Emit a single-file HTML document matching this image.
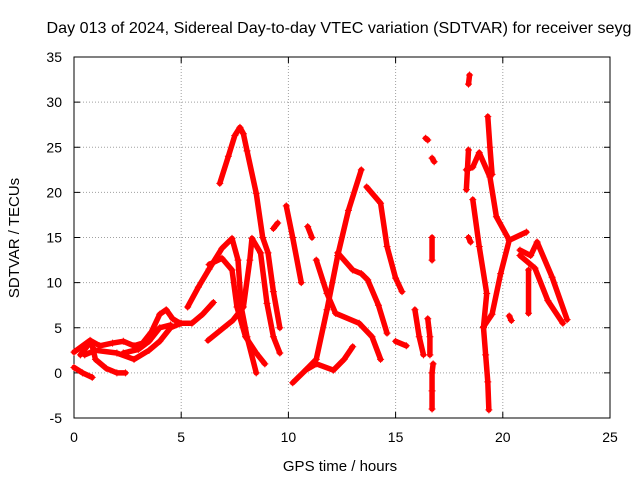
<!DOCTYPE html>
<html><head><meta charset="utf-8"><style>
body{margin:0;background:#fff}
svg{display:block;font-family:"Liberation Sans",sans-serif}
</style></head><body>
<svg id="chart" width="640" height="480" viewBox="0 0 640 480">
<rect width="640" height="480" fill="#fff"/>
<text x="339" y="33" font-size="16" text-anchor="middle" textLength="585" lengthAdjust="spacingAndGlyphs">Day 013 of 2024, Sidereal Day-to-day VTEC variation (SDTVAR) for receiver seyg</text>
<g id="grid"></g>
<g id="axes"></g>
<g id="marks"></g>
<text x="340" y="471" font-size="15" text-anchor="middle">GPS time / hours</text>
<text transform="translate(19,238) rotate(-90)" font-size="15" text-anchor="middle">SDTVAR / TECUs</text>
</svg>
<script>
const xTicks=[0,5,10,15,20,25];
const yTicks=[-5,0,5,10,15,20,25,30,35];
const track1=[[6.8,21],[7.2,24],[7.5,26.3],[7.74,27.2],[7.9,26.5],[8.07,24.6],[8.5,19.9],[8.8,15],[9.05,13.3],[9.3,9],[9.6,5]];
const track2=[[5.3,7.3],[5.8,9.5],[6.3,11.5],[6.9,13.8],[7.37,14.9],[7.65,12.5],[7.8,7.3],[8.07,4],[8.5,0]];
const track3=[[6.3,12],[6.9,12.7],[7.37,11.4],[7.6,7.3],[8.0,4],[8.5,2.2],[8.9,1]];
const track4=[[6.25,3.6],[7.4,5.8],[7.9,7.3],[8.2,12.5],[8.3,14.9],[8.7,13.3],[9.0,7.7],[9.3,4],[9.6,2.2]];
const track5=[[9.3,16],[9.5,16.6]];
const track6=[[9.9,18.5],[10.2,15],[10.6,10]];
const track7=[[10.9,16.2],[11.1,15]];
const track8=[[10.2,-1.1],[10.8,0.3],[11.3,1.5],[11.8,7],[12.3,13],[12.8,18],[13.4,22.5]];
const track9=[[12.3,13.3],[13,11.4],[13.4,11],[13.7,10.3],[14.2,7.5],[14.6,4.4]];
const track10=[[11.3,12.5],[11.8,8.8],[12.2,6.6],[13.3,5.5],[13.9,4],[14.3,1.5]];
const track11=[[13.65,20.6],[14.3,18.8],[14.6,14],[15,10.5],[15.3,9]];
const track12=[[10.8,0.3],[11.3,1],[12.1,0.3],[12.6,1.5],[13,2.9]];
const track13=[[0,2.3],[0.75,3.6],[1.2,3],[1.8,3.3],[2.3,3.5],[2.8,3],[3.2,3.3],[3.6,4.5],[4,6.5],[4.3,7],[4.6,6],[4.94,5.5],[5.5,5.5],[6,6.5],[6.5,7.8]];
const track14=[[0,0.6],[0.4,0],[0.85,-0.5]];
const track15=[[0.3,2],[0.8,3.5],[1,1.5],[1.5,0.5],[2,0],[2.4,0]];
const track16=[[0.5,2],[1,2.5],[2,2.2],[2.8,1.5],[3.5,2.5],[4,3.5],[4.5,5],[5,5.5]];
const track17=[[2.3,2.2],[3,2.6],[3.5,3.5],[4,5],[4.5,5.3]];
const track18=[[15,3.5],[15.5,3]];
const track19=[[15.9,7],[16.1,4],[16.3,2]];
const track20=[[16.4,26],[16.5,25.8]];
const track21=[[16.7,23.8],[16.8,23.4]];
const track22=[[16.7,-4],[16.7,-2],[16.7,0],[16.75,1]];
const track23=[[16.7,12.5],[16.7,15]];
const track24=[[16.5,6],[16.6,4],[16.6,2]];
const track25=[[18.4,32],[18.45,33]];
const track26=[[18.3,22.5],[18.6,22.8],[18.9,24.4],[19.4,21.7],[19.7,17.3],[20.3,14.7]];
const track27=[[18.6,19.2],[18.9,14],[19.25,8.8],[19.1,5.1]];
const track28=[[19.3,28.4],[19.4,25],[19.5,22]];
const track29=[[19.1,5.1],[19.5,6.5],[19.9,11],[20.3,14.7],[21.1,15.6]];
const track30=[[20.8,13.6],[21.3,13],[21.6,14.5],[22.3,10.6],[23,5.9]];
const track31=[[20.8,13],[21.5,11.6],[22.1,8],[22.8,5.5]];
const track32=[[19.1,5],[19.2,2],[19.3,-1],[19.35,-4.1]];
const track33=[[18.4,15],[18.5,14.5]];
const track34=[[18.4,24.7],[18.3,20.3]];
const track35=[[20.3,6.3],[20.4,5.8]];
const track36=[[21.2,11.4],[21.2,6.6]];
const tracks=[track1,track2,track3,track4,track5,track6,track7,track8,track9,track10,track11,track12,track13,track14,track15,track16,track17,track18,track19,track20,track21,track22,track23,track24,track25,track26,track27,track28,track29,track30,track31,track32,track33,track34,track35,track36];
const NS="http://www.w3.org/2000/svg";
const L=74,R=610,T=57,B=418;
function xs(v){return L+(v-0)/25*(R-L);}
function ys(v){return B-(v+5)/40*(B-T);}
function mk(tag,attrs,parent){const e=document.createElementNS(NS,tag);for(const k in attrs)e.setAttribute(k,attrs[k]);parent.appendChild(e);return e;}
const grid=document.getElementById('grid'),axes=document.getElementById('axes'),marks=document.getElementById('marks');
xTicks.forEach(t=>{
  const x=xs(t);
  if(t>0&&t<25){const g=mk('line',{x1:x,x2:x,y1:T,y2:B,stroke:'#a0a0a0','stroke-dasharray':'1,2'},grid);
  
  }
  const tx=mk('text',{x:x,y:B+24,'font-size':'14','text-anchor':'middle'},axes);tx.textContent=t;
  
  
  mk('line',{x1:x,x2:x,y1:B,y2:B-6,stroke:'#000'},axes);
  mk('line',{x1:x,x2:x,y1:T,y2:T+6,stroke:'#000'},axes);
});
yTicks.forEach(t=>{
  const y=ys(t);
  if(t>-5&&t<35){const g=mk('line',{x1:L,x2:R,y1:y,y2:y,stroke:'#a0a0a0','stroke-dasharray':'1,2'},grid);
  
  }
  const tx=mk('text',{x:L-12,y:y+5,'font-size':'14','text-anchor':'end'},axes);tx.textContent=t;
  
  
  mk('line',{x1:L,x2:L+6,y1:y,y2:y,stroke:'#000'},axes);
  mk('line',{x1:R,x2:R-6,y1:y,y2:y,stroke:'#000'},axes);
});
mk('rect',{x:L,y:T,width:R-L,height:B-T,fill:'none',stroke:'#000'},axes);
tracks.forEach((tr,i)=>{
  const pl=mk('polyline',{points:tr.map(p=>xs(p[0])+','+ys(p[1])).join(' '),fill:'none',stroke:'#f00','stroke-width':'5.5','stroke-linejoin':'round','stroke-linecap':'round'},marks);
  
  
  tr.forEach(p=>{
    const x=xs(p[0]),y=ys(p[1]);
    const m=mk('path',{d:`M${x-3.5},${y}H${x+3.5}M${x},${y-3.5}V${y+3.5}`,stroke:'#f00','stroke-width':'1'},marks);
    
    
  });
});
</script>
</body></html>
